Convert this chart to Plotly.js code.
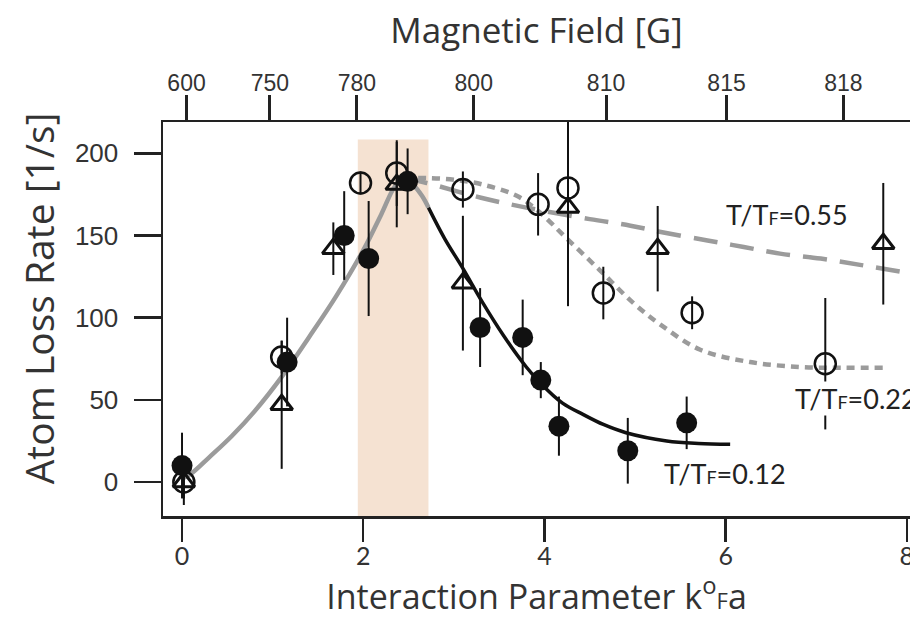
<!DOCTYPE html>
<html>
<head>
<meta charset="utf-8">
<script src="https://cdn.plot.ly/plotly-3.0.1.min.js"></script>
<style>html,body{margin:0;padding:0;background:#fff;overflow:hidden;}#chart{width:910px;height:619px;}</style>
</head>
<body>
<div id="chart"></div>
<script>
// ---- data ----
// T/TF = 0.12 : filled circles
const solidX   = [0, 1.16, 1.79, 2.06, 2.49, 3.29, 3.76, 3.96, 4.16, 4.92, 5.57];
const solidY   = [10, 73, 150, 136, 183, 94, 88, 62, 34, 19, 36];
const solidErr = [20, 27, 27, 35, 20, 24, 23, 11, 18, 20, 16];
// T/TF = 0.22 : open circles
const openX    = [0.02, 1.1, 1.97, 2.37, 3.1, 3.93, 4.26, 4.65, 5.63, 7.1];
const openY    = [0, 76, 182, 188, 178, 169, 179, 115, 103, 72];
const openErr  = [14, 10, 7, 20, 11, 19, 15, 16, 10, 40];
// T/TF = 0.55 : open triangles
const triX     = [0.02, 1.1, 1.67, 2.37, 3.1, 4.26, 5.25, 7.74];
const triY     = [0, 47, 142, 181, 121, 167, 142, 145];
const triErr   = [10, 39, 16, 26, 41, 60, 26, 37];
// fitted curves
const riseX  = [0, 0.1, 0.3, 0.55, 0.8, 1.1, 1.4, 1.7, 2.0, 2.2, 2.35, 2.45, 2.55, 2.65, 2.72];
const riseY  = [2, 5, 15, 28, 43, 64, 88, 113, 141, 163, 180, 185, 181, 174, 167];
const fit12X = [2.72, 2.9, 3.1, 3.32, 3.55, 3.8, 3.96, 4.2, 4.43, 4.65, 4.9, 5.35, 5.7, 6.05];
const fit12Y = [167, 148, 130, 109, 89, 70, 60, 48, 41, 35, 30, 25, 23.5, 23];
const fit22X = [2.45, 2.7, 3.0, 3.32, 3.7, 3.95, 4.25, 4.61, 4.98, 5.3, 5.72, 6.27, 6.82, 7.3, 7.74];
const fit22Y = [185, 185, 184, 181, 174, 164, 148, 129, 109, 95, 80.5, 73, 70, 69.5, 69.5];
const fit55X = [2.45, 2.7, 3.3, 3.8, 4.5, 4.95, 5.3, 5.8, 6.2, 6.6, 7.05, 7.5, 8.04];
const fit55Y = [185, 182, 173, 167, 160, 156, 152, 147, 143, 139, 136, 132, 127];
// shaded band (interaction parameter range) and its top value
const bandX = [1.94, 2.72];
const bandY = [-20.7, 208.5];
// axes
const xRange = [-0.21, 8.035];
const yRange = [-20.7, 219.1];
const bottomTicks = [0, 2, 4, 6, 8];
const yTicks = [0, 50, 100, 150, 200];
const topTickPos  = [0.05, 0.97, 1.93, 3.22, 4.68, 6.01, 7.3];
const topTickText = ['600', '750', '780', '800', '810', '815', '818'];
// curve labels
const labelText = ['T/T<span style="font-size:18px">F</span>=0.55',
                   'T/T<span style="font-size:18px">F</span>=0.22',
                   'T/T<span style="font-size:18px">F</span>=0.12'];
const labelX = [5.99, 6.75, 5.31];
const labelY = [163, 51, 5];
const yTitle = 'Atom Loss Rate [1/s]';

const GRAY = '#9b9b9b';
const errStyle = (arr) => ({type: 'data', array: arr, visible: true, color: '#111', thickness: 2, width: 0});

const traces = [
  {x: riseX, y: riseY, mode: 'lines', line: {color: GRAY, width: 4.5, shape: 'spline'}, hoverinfo: 'skip'},
  {x: fit55X, y: fit55Y, mode: 'lines', line: {color: GRAY, width: 4.5, dash: '24px,13px', shape: 'spline'}, hoverinfo: 'skip'},
  {x: fit22X, y: fit22Y, mode: 'lines', line: {color: GRAY, width: 4.5, dash: '8px,6px', shape: 'spline'}, hoverinfo: 'skip'},
  {x: fit12X, y: fit12Y, mode: 'lines', line: {color: '#111', width: 3.5, shape: 'spline'}, hoverinfo: 'skip'},
  {x: triX, y: triY, mode: 'markers', error_y: errStyle(triErr),
   marker: {symbol: 'triangle-up-open', size: 19, color: '#111', line: {width: 3, color: '#111'}}},
  {x: openX, y: openY, mode: 'markers', error_y: errStyle(openErr),
   marker: {symbol: 'circle-open', size: 21, color: '#111', line: {width: 2.5, color: '#111'}}},
  {x: solidX, y: solidY, mode: 'markers', error_y: errStyle(solidErr),
   marker: {symbol: 'circle', size: 21, color: '#111', line: {width: 0}}},
  // carries the top (magnetic field) axis
  {x: [null], y: [null], xaxis: 'x2', yaxis: 'y', mode: 'markers', hoverinfo: 'skip'}
];

const annotations = labelText.map((t, i) => ({
  x: labelX[i], y: labelY[i], xref: 'x', yref: 'y', text: t, showarrow: false,
  xanchor: 'left', yanchor: 'middle', font: {family: 'Lato, sans-serif', size: 27, color: '#222'},
  bgcolor: i === 1 ? '#ffffff' : 'rgba(0,0,0,0)', borderpad: 0
}));
annotations.push({
  xref: 'paper', yref: 'paper', x: -0.167, y: 0.553, text: yTitle, textangle: -90, showarrow: false,
  xanchor: 'center', yanchor: 'middle', font: {family: '"Open Sans", sans-serif', size: 39, color: '#333'}
});

const layout = {
  width: 910, height: 619,
  margin: {l: 163, r: 0, t: 122, b: 103},
  paper_bgcolor: '#fff', plot_bgcolor: '#fff',
  showlegend: false,
  xaxis: {
    range: xRange, tickmode: 'array', tickvals: bottomTicks, ticktext: bottomTicks.map(String),
    showgrid: false, zeroline: false, showline: true, linecolor: '#222', linewidth: 2.5,
    ticks: 'outside', ticklen: 23, tickwidth: 2.5, tickcolor: '#222',
    ticklabelstandoff: -7, ticklabeloverflow: 'allow',
    tickfont: {family: 'Lato, sans-serif', size: 25, color: '#333'},
    title: {text: 'Interaction Parameter k<sup>o</sup><span style="font-size:22px">F</span>a',
            font: {family: '"Open Sans", sans-serif', size: 34, color: '#333'}, standoff: 8},
    automargin: false
  },
  xaxis2: {
    range: xRange, overlaying: 'x', side: 'top', tickmode: 'array',
    tickvals: topTickPos, ticktext: topTickText,
    showgrid: false, zeroline: false, showline: true, linecolor: '#222', linewidth: 2.5,
    ticks: 'outside', ticklen: 25, tickwidth: 3, tickcolor: '#222',
    ticklabelstandoff: -6,
    tickfont: {family: '"Liberation Sans", Arial, sans-serif', size: 23, color: '#333'},
    title: {text: 'Magnetic Field [G]', font: {family: '"Open Sans", sans-serif', size: 35, color: '#333'}, standoff: 16},
    automargin: false
  },
  yaxis: {
    range: yRange, tickmode: 'array', tickvals: yTicks, ticktext: yTicks.map(String),
    showgrid: false, zeroline: false, showline: true, linecolor: '#222', linewidth: 2.5,
    ticks: 'outside', ticklen: 27, tickwidth: 2.5, tickcolor: '#222',
    ticklabelstandoff: 10,
    tickfont: {family: '"Liberation Sans", Arial, sans-serif', size: 26, color: '#333'},
    automargin: false
  },
  shapes: [{
    type: 'rect', xref: 'x', yref: 'y', x0: bandX[0], x1: bandX[1], y0: bandY[0], y1: bandY[1],
    fillcolor: '#f5e2d2', line: {width: 0}, layer: 'below'
  }],
  annotations: annotations
};

Plotly.newPlot('chart', traces, layout, {displayModeBar: false, staticPlot: true});
</script>
</body>
</html>
